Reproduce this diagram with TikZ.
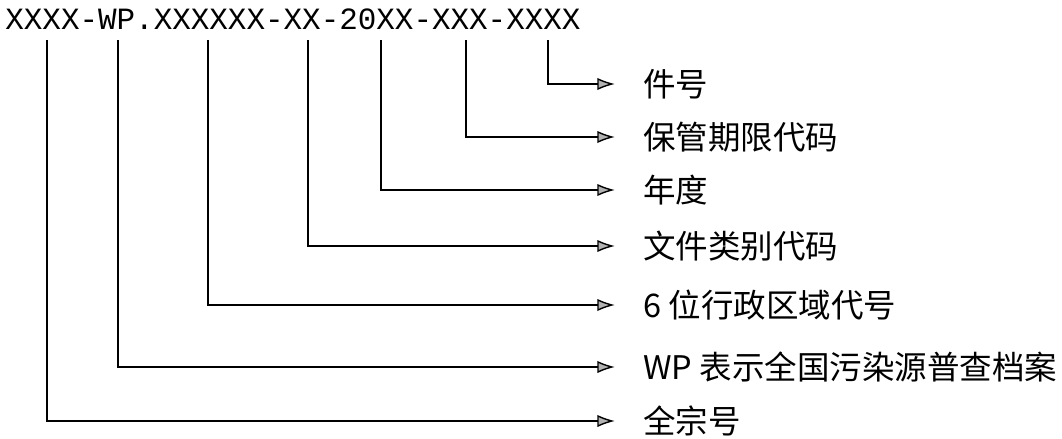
\documentclass[tikz,border=0pt]{standalone}
\usepackage{fontspec}
\newfontfamily\cjk{Noto Sans CJK SC}
\newfontfamily\codefont{Liberation Mono}
\usetikzlibrary{arrows.meta}

\tikzset{
  lbl/.style={anchor=west, inner sep=0pt, font=\cjk\fontsize{18.5pt}{21pt}\selectfont},
  conn/.style={line width=0.8pt, -{Latex[length=10pt,width=7pt,fill=gray!60]}, shorten >=16pt}
}

\begin{document}
\begin{tikzpicture}[x=0.02cm, y=-0.02cm]
\useasboundingbox (0,0) rectangle (1062,439);
% code line
\node[anchor=base west, inner sep=0pt, font=\codefont\fontsize{17.6pt}{20pt}\selectfont] (code) at (5,30) {XXXX-WP.XXXXXX-XX-20XX-XXX-XXXX};
% parts and their meaning
\foreach \x/\y/\t [count=\i] in {548/84/件号, 466/137/保管期限代码, 381/190/年度,
    308/246/文件类别代码, 208/305/6 位行政区域代号,
    118/367/WP 表示全国污染源普查档案, 47/421/全宗号} {
  \coordinate (tap\i) at (\x,40);
  \node[lbl] (lab\i) at (643,\y) {\t};
  \draw[conn] (tap\i) |- (lab\i.west);
}
\end{tikzpicture}
\end{document}
